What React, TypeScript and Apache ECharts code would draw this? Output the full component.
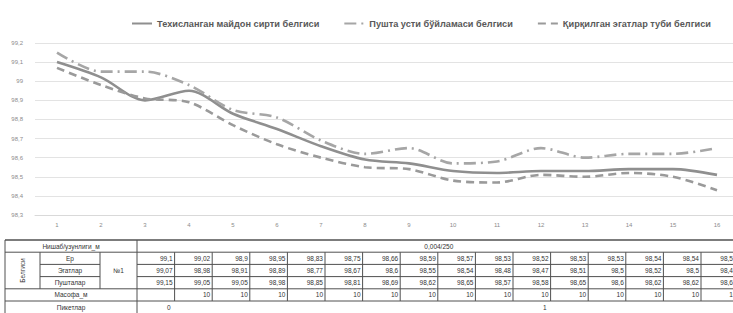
import React, { useEffect, useRef } from "react";
import * as echarts from "echarts";

const categories = ["1", "2", "3", "4", "5", "6", "7", "8", "9", "10", "11", "12", "13", "14", "15", "16"];
const groundValues = [99.1, 99.02, 98.9, 98.95, 98.83, 98.75, 98.66, 98.59, 98.57, 98.53, 98.52, 98.53, 98.53, 98.54, 98.54, 98.51];
const furrowValues = [99.07, 98.98, 98.91, 98.89, 98.77, 98.67, 98.6, 98.55, 98.54, 98.48, 98.47, 98.51, 98.5, 98.52, 98.5, 98.43];
const ridgeValues = [99.15, 99.05, 99.05, 98.98, 98.85, 98.81, 98.69, 98.62, 98.65, 98.57, 98.58, 98.65, 98.6, 98.62, 98.62, 98.65];
const seriesNames = [
  "Техисланган майдон сирти белгиси",
  "Пушта усти бўйламаси белгиси",
  "Қирқилган эгатлар туби белгиси",
];
const rowLabels = ["Ер", "Эгатлар", "Пушталар"];
const distanceValues = [null, 10, 10, 10, 10, 10, 10, 10, 10, 10, 10, 10, 10, 10, 10, 10];
const piketLabels = ["0", "", "", "", "", "", "", "", "", "", "1", "", "", "", "", ""];
const slopeText = "0,004/250";
const yMin = 98.3;
const yMax = 99.2;
const yStep = 0.1;

const fmt = (v: number) => String(+v.toFixed(2)).replace(".", ",");

function buildTable() {
  const els: any[] = [];
  const top = 240;
  const rh = 12.2;
  const L = 5;
  const c1 = 40;
  const c2 = 100;
  const c3 = 137;
  const cw = 37.6;
  const R = c3 + cw * categories.length + 2;
  const lineCol = "#505050";
  const font = "Liberation Sans";
  const hline = (y: number, x1: number, x2: number, w = 1) =>
    els.push({ type: "line", shape: { x1, y1: y, x2, y2: y }, style: { stroke: lineCol, lineWidth: w }, silent: true });
  const vline = (x: number, y1: number, y2: number, w = 1) =>
    els.push({ type: "line", shape: { x1: x, y1, x2: x, y2 }, style: { stroke: lineCol, lineWidth: w }, silent: true });
  const txt = (text: string, x: number, y: number, align = "center", extra: any = {}) =>
    els.push({
      type: "text",
      x,
      y,
      silent: true,
      ...extra,
      style: { text, fill: "#333", font: `6.5px '${font}'`, align, verticalAlign: "middle" },
    });
  const y = (r: number) => top + rh * r;
  hline(y(0), L, R, 1.6);
  hline(y(1), L, R);
  hline(y(2), c1, c2);
  hline(y(2), c3, R);
  hline(y(3), c1, c2);
  hline(y(3), c3, R);
  hline(y(4), L, R);
  hline(y(5), L, R);
  vline(L, y(0), 313);
  vline(c1, y(1), y(4));
  vline(c2, y(1), y(4));
  vline(c3, y(0), 313);
  for (let k = 1; k <= categories.length; k++) vline(c3 + cw * k, y(1), y(5));
  txt("Нишаб/узунлиги_м", (L + c3) / 2, y(0.5));
  txt(slopeText, (c3 + R) / 2, y(0.5));
  txt("Белгиси", (L + c1) / 2, y(2.5), "center", { rotation: Math.PI / 2 });
  rowLabels.forEach((lab, i) => txt(lab, (c1 + c2) / 2, y(1.5 + i)));
  txt("№1", (c2 + c3) / 2, y(2.5));
  txt("Масофа_м", (L + c3) / 2, y(4.5));
  txt("Пикетлар", (L + c3) / 2, y(5.5));
  const rows = [groundValues, furrowValues, ridgeValues];
  rows.forEach((vals, r) =>
    vals.forEach((v, k) => txt(fmt(v), c3 + cw * (k + 1) - 2, y(1.5 + r), "right"))
  );
  distanceValues.forEach((v, k) => {
    if (v != null) txt(String(v), c3 + cw * (k + 1) - 2, y(4.5), "right");
  });
  piketLabels.forEach((v, k) => {
    if (v) txt(v, c3 + cw * (k + 1) - 4, y(5.5), "right");
  });
  return els;
}

export default function App() {
  const ref = useRef<HTMLDivElement>(null);
  useEffect(() => {
    if (!ref.current) return;
    const chart = echarts.init(ref.current, null, { renderer: "svg" });
    const font = "Liberation Sans";
    chart.setOption({
      animation: false,
      backgroundColor: "#fff",
      textStyle: { fontFamily: font },
      legend: {
        top: 14,
        left: 126,
        itemGap: 24,
        itemWidth: 20,
        itemHeight: 8,
        itemStyle: { opacity: 0 },
        textStyle: { color: "#595959", fontSize: 9.2, fontWeight: 600, fontFamily: font },
        data: seriesNames,
      },
      grid: { left: 35, right: 6, top: 43, bottom: 98, containLabel: false },
      xAxis: {
        type: "category",
        data: categories,
        boundaryGap: true,
        axisLine: { show: true, lineStyle: { color: "#d9d9d9" } },
        axisTick: { show: false },
        axisLabel: { color: "#8c8c8c", fontSize: 6, margin: 7 },
      },
      yAxis: {
        type: "value",
        min: yMin,
        max: yMax,
        interval: yStep,
        axisLine: { show: false },
        axisTick: { show: false },
        axisLabel: { color: "#8c8c8c", fontSize: 6, margin: 12, formatter: (v: number) => fmt(v) },
        splitLine: { lineStyle: { color: "#e3e3e3" } },
      },
      series: [
        {
          name: seriesNames[0],
          type: "line",
          data: groundValues,
          smooth: 0.3,
          symbol: "none",
          lineStyle: { color: "#8f8f8f", width: 2.6, type: "solid" },
          itemStyle: { color: "#8f8f8f" },
        },
        {
          name: seriesNames[1],
          type: "line",
          data: ridgeValues,
          smooth: 0.3,
          symbol: "none",
          lineStyle: { color: "#a6a6a6", width: 2.6, type: [12, 5, 2, 5] },
          itemStyle: { color: "#a6a6a6" },
        },
        {
          name: seriesNames[2],
          type: "line",
          data: furrowValues,
          smooth: 0.3,
          symbol: "none",
          lineStyle: { color: "#9a9a9a", width: 2.6, type: [8, 5] },
          itemStyle: { color: "#9a9a9a" },
        },
      ],
      graphic: buildTable(),
    });
    return () => chart.dispose();
  }, []);
  return (
    <div style={{ position: "absolute", left: 0, top: 0, width: 733, height: 313, overflow: "hidden", background: "#fff" }}>
      <div ref={ref} style={{ width: 745, height: 313 }} />
    </div>
  );
}
